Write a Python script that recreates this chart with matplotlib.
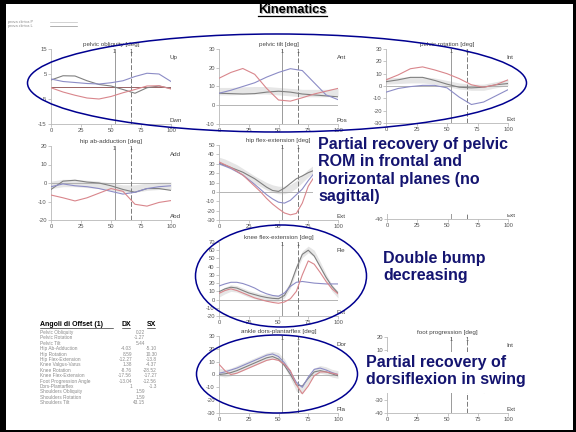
"""
Gait kinematics slide: joint angle curves over the gait cycle with annotations.
"""
import matplotlib
matplotlib.use("Agg")
import matplotlib.pyplot as plt
from matplotlib.patches import Ellipse, Rectangle
import numpy as np

plt.rcParams['font.family'] = ['Liberation Sans', 'DejaVu Sans']

W, H = 576, 432

# --- DATA --- #

pct10 = [0, 10, 20, 30, 40, 50, 60, 70, 80, 90, 100]
pct5 = [0, 5, 10, 15, 20, 25, 30, 35, 40, 45, 50, 55, 60, 65, 70, 75, 80, 85, 90, 95, 100]
events = [53, 66.5]  # toe off / opposite event (% cycle)

# pelvic obliquity
obl_grey = [2.6, 4.3, 4.2, 2.3, 0.8, 0.2, -1.2, -2.7, -0.5, 0.2, -0.8]
obl_blue = [3.0, 2.0, 1.6, 1.2, 1.0, 1.5, 2.3, 4.0, 5.3, 5.0, 2.0]
obl_red = [-0.5, -2.2, -3.5, -4.6, -5.0, -4.0, -2.5, -1.2, 0.2, 0.3, -1.0]

# pelvic tilt
tilt_norm = [7.5, 7.5, 7.8, 8.0, 8.0, 7.5, 7.0, 6.5, 6.5, 6.5, 7.0]
tilt_grey = [6.4, 6.2, 6.0, 6.2, 7.0, 7.5, 7.0, 6.0, 5.5, 5.0, 4.5]
tilt_blue = [6.4, 8.0, 10.0, 12.0, 15.0, 17.5, 19.5, 18.5, 12.0, 5.5, 3.0]
tilt_red = [14.4, 17.5, 19.6, 16.5, 9.0, 2.8, 2.2, 4.0, 6.0, 7.5, 9.0]

# pelvic rotation
rot_norm = [4.0, 4.5, 5.0, 5.0, 4.0, 2.0, 0.0, -1.0, -1.0, 1.0, 3.0]
rot_grey = [3.5, 5.0, 7.0, 7.0, 4.5, 1.5, -1.0, -1.5, -1.0, 1.0, 2.0]
rot_blue = [-5.0, -2.0, -0.5, 0.5, 0.5, -1.5, -9.0, -15.0, -13.0, -8.0, -3.0]
rot_red = [5.0, 9.0, 14.0, 15.5, 13.0, 10.0, 6.0, 1.0, -1.0, 1.0, 5.0]

# hip ab-adduction
abd_norm = [-1.0, 0.0, 0.0, -0.5, -1.0, -2.0, -3.0, -3.0, -2.0, -1.5, -1.5]
abd_grey = [-3.5, 1.0, 1.5, 0.5, 0.0, -1.5, -3.5, -5.0, -3.0, -3.0, -4.0]
abd_blue = [-2.0, -0.5, -1.5, -2.0, -3.0, -4.5, -6.0, -5.0, -3.0, -2.0, -1.5]
abd_red = [-6.5, -8.0, -9.7, -8.0, -5.5, -3.0, -4.5, -11.5, -12.5, -10.5, -9.5]

# hip flex-extension
hip_norm = [33, 31, 28, 25, 21, 17, 13, 9.5, 6, 3.5, 2, 2, 4, 8, 14, 20, 25, 28, 30, 31, 31]
hip_grey = [30.5, 28.5, 26, 23.5, 21, 17.5, 14, 9.5, 5, 1.5, 0.5, 4, 9, 14, 17, 20.5, 23, 25, 26, 26.5, 27]
hip_blue = [30, 27.5, 25, 21.5, 18, 13, 8, 2.5, -3, -7.5, -11, -12, -9, -3, 3, 12, 20, 24, 27, 28.5, 29]
hip_red = [32, 29, 26, 22, 18, 12, 6, 0, -7, -13, -18, -22.5, -24.5, -23, -12, 6, 16, 23, 28, 30.5, 32]

# knee flex-extension
knee_norm = [7, 11, 14, 13, 10, 7, 5, 3, 2, 1.5, 2, 6, 18, 38, 55, 61, 56, 42, 27, 14, 6]
knee_grey = [9.5, 13, 15, 14, 11, 8, 6, 4, 2.5, 1.5, 1, 5, 18, 38, 55, 60, 53, 40, 27, 16, 8]
knee_blue = [16.5, 19, 21, 21, 19.5, 17, 14, 10, 7, 5, 4, 8, 16, 21, 22, 21, 20, 19.5, 19, 19, 19]
knee_red = [7.5, 11, 13, 11, 8, 5, 2, 0, -2, -3.5, -4.5, -3, 1, 10, 30, 47, 43, 33, 22, 13, 7]

# ankle dors-plantarflex
ank_norm = [2, 1, 2, 4, 6, 8, 10, 12, 14, 15, 14, 9, 0, -10, -12, -4, 2, 4, 3, 1, 0]
ank_grey = [0, 0.5, 1.5, 3, 5, 7, 9, 11, 13, 14, 12, 7, 0, -8, -9, -3, 2, 3, 2, 0.5, -1]
ank_blue = [1, 2, 3.5, 5, 7, 9, 11, 13, 15, 16, 14, 9, 2, -6, -10, -2, 4, 5, 3.5, 1.5, 0]
ank_red = [8, 3, 0, 1, 3, 5, 7, 9, 11, 12, 11, 8, 3, -8, -15, -9, -1, 2, 2, 1, 0]

# foot progression (mostly hidden under the note)
foot_norm = [-10, -10, -9, -9, -9, -10, -12, -16, -18, -14, -11]

# offset table
offset_names = ['Pelvic Obliquity', 'Pelvic Rotation', 'Pelvic Tilt', 'Hip Ab-Adduction',
                'Hip Rotation', 'Hip Flex-Extension', 'Knee Valgus-Varus', 'Knee Rotation',
                'Knee Flex-Extension', 'Foot Progression Angle', 'Dors-Plantarflex',
                'Shoulders Obliquity', 'Shoulders Rotation', 'Shoulders Tilt']
offset_mid = ['0.22', '-1.27', '5.44', '', '', '', '', '', '', '', '', '1.59', '1.59', '43.15']
offset_dx = ['', '', '', '-4.03', '8.59', '-12.27', '1.38', '-8.76', '-17.56', '-13.04', '1', '', '', '']
offset_sx = ['', '', '', '-5.10', '10.30', '-13.8', '-4.37', '-28.52', '-17.27', '-12.56', '-1.3', '', '', '']

GREY = '#808080'
BLUE = '#8c8cc6'
RED = '#d9868c'
BAND = '#e6e6e6'
NAVY = '#141470'

fig = plt.figure(figsize=(W / 100, H / 100), dpi=100)
fig.patch.set_facecolor('white')


def draw_panel(box, title, ylim, yticks, tags, x=None, curves=(), band=None, band_sd=2.0,
               zero_color='#a8a8a8', shown=None, markers=True):
    x0, x1, y0, y1 = box
    ax = fig.add_axes([x0 / W, 1 - y1 / H, (x1 - x0) / W, (y1 - y0) / H])
    ax.patch.set_alpha(0)
    ax.set_xlim(0, 100)
    ax.set_ylim(*ylim)
    for s in ('top', 'right'):
        ax.spines[s].set_visible(False)
    for s in ('left', 'bottom'):
        ax.spines[s].set_color('#b8b8b8')
        ax.spines[s].set_linewidth(0.6)
    ax.set_xticks([0, 25, 50, 75, 100])
    ax.set_yticks(yticks)
    # labels under the white note boxes are not drawn
    shown = yticks if shown is None else shown
    ax.set_yticklabels([str(t) if t in shown else '' for t in yticks])
    ax.tick_params(axis='both', length=2, width=0.5, color='#b0b0b0', labelsize=4.2,
                   labelcolor='#555555', pad=1)
    if title:
        ax.set_title(title, fontsize=4.5, pad=2, color='#444444')

    if band is not None:
        band = np.asarray(band)
        ax.fill_between(x, band - band_sd, band + band_sd, color=BAND, lw=0, zorder=1)
    ax.axhline(0, color=zero_color, lw=0.6, zorder=2)
    ax.axvline(events[0], color='#9a9a9a', lw=0.7, zorder=2)
    ax.axvline(events[1], color='#7a7a7a', lw=0.7, dashes=(5, 2), zorder=2)
    if markers:
        for ev in events:
            ax.text(ev, ylim[1], '1', fontsize=4, ha='center', va='top', color='#555555')
    for values, color in curves:
        ax.plot(x, values, color=color, lw=0.8, zorder=3)

    if tags[0]:
        ax.text(0.99, 0.89, tags[0], transform=ax.transAxes, fontsize=4.5, color='#444444',
                ha='left', va='center')
    if tags[1]:
        ax.text(0.99, 0.05, tags[1], transform=ax.transAxes, fontsize=4.5, color='#444444',
                ha='left', va='center')
    return ax


draw_panel((51, 171, 49, 124), 'pelvic obliquity [deg]', (-15, 15), [-15, -5, 5, 15],
           ('Up', 'Dwn'), x=pct10, zero_color='#8a4a4a',
           curves=[(obl_grey, GREY), (obl_blue, BLUE), (obl_red, RED)])
draw_panel((219, 338, 49, 124), 'pelvic tilt [deg]', (-10, 30), [-10, 0, 10, 20, 30],
           ('Ant', 'Pos'), x=pct10, band=tilt_norm,
           curves=[(tilt_grey, GREY), (tilt_blue, BLUE), (tilt_red, RED)])
draw_panel((386, 508, 49, 123), 'pelvic rotation [deg]', (-30, 30), [-30, -20, -10, 0, 10, 20, 30],
           ('Int', 'Ext'), x=pct10, band=rot_norm, band_sd=2.5,
           curves=[(rot_grey, GREY), (rot_blue, BLUE), (rot_red, RED)])
draw_panel((51, 171, 146, 220), 'hip ab-adduction [deg]', (-20, 20), [-20, -10, 0, 10, 20],
           ('Add', 'Abd'), x=pct10, band=abd_norm,
           curves=[(abd_grey, GREY), (abd_blue, BLUE), (abd_red, RED)])
draw_panel((219, 338, 145, 220), 'hip flex-extension [deg]', (-30, 50),
           [-30, -20, -10, 0, 10, 20, 30, 40, 50], (None, 'Ext'), x=pct5, band=hip_norm,
           band_sd=4, curves=[(hip_grey, GREY), (hip_blue, BLUE), (hip_red, RED)])
draw_panel((387, 508, 146, 219), '', (-40, 40), [-40, -20, 0, 20, 40],
           (None, 'Ext'), x=pct10, shown=[-40], markers=False)
draw_panel((219, 338, 242, 316), 'knee flex-extension [deg]', (-20, 70),
           [-20, -10, 0, 10, 20, 30, 40, 50, 60, 70], ('Fle', 'Ext'), x=pct5, band=knee_norm,
           band_sd=4, curves=[(knee_grey, GREY), (knee_blue, BLUE), (knee_red, RED)])
draw_panel((219, 338, 336, 413), 'ankle dors-plantarflex [deg]', (-30, 30),
           [-30, -20, -10, 0, 10, 20, 30], ('Dor', 'Pla'), x=pct5, band=ank_norm, band_sd=3,
           curves=[(ank_grey, GREY), (ank_blue, BLUE), (ank_red, RED)])
draw_panel((387, 508, 337, 413), 'foot progression [deg]', (-40, 20),
           [-40, -30, -20, -10, 0, 10, 20], ('Int', 'Ext'), x=pct10, band=foot_norm, band_sd=6,
           shown=[-40, -30, 10, 20])

# --- OVERLAY (frame, notes, ellipses, table) --- #
ov = fig.add_axes([0, 0, 1, 1])
ov.set_xlim(0, W)
ov.set_ylim(H, 0)
ov.axis('off')
ov.patch.set_alpha(0)
ov.set_zorder(10)

# slide frame
for rect in [(0, 0, 6, H), (0, 0, W, 4), (W - 3, 0, 3, H), (0, H - 2, W, 2)]:
    ov.add_patch(Rectangle(rect[:2], rect[2], rect[3], color='black', lw=0))

# title
ov.text(293, 11, 'Kinematics', fontsize=9.3, fontweight='bold', color='#b0b0b0',
        ha='center', va='center')
ov.text(292, 10, 'Kinematics', fontsize=9.3, fontweight='bold', color='black',
        ha='center', va='center')
ov.plot([258, 327], [16, 16], color='black', lw=0.9)

# legend
for i, (lab, col) in enumerate([('prova clinica P', '#c0c0c0'), ('prova clinica L', '#909090')]):
    yy = 21.5 + 4 * i
    ov.text(8, yy, lab, fontsize=2.8, color='#888888', va='center')
    ov.plot([50, 77], [yy, yy], color=col, lw=0.5)

# note boxes hiding parts of the plots
ov.add_patch(Rectangle((313, 135), 222, 79, color='white', lw=0))
ov.add_patch(Rectangle((361, 352), 169, 41, color='white', lw=0))

note_kw = dict(fontsize=11.5, fontweight='bold', color=NAVY, ha='left', va='top',
               linespacing=1.2)
ov.text(318, 137, 'Partial recovery of pelvic\nROM in frontal and\nhorizontal planes (no\nsagittal)',
        **note_kw)
ov.text(383, 251, 'Double bump\ndecreasing', **note_kw)
ov.text(366, 355, 'Partial recovery of\ndorsiflexion in swing', **note_kw)

# ellipses
for (cx, cy, ew, eh) in [(277, 83, 499, 98), (281, 276, 171, 102), (277, 374, 161, 78)]:
    ov.add_patch(Ellipse((cx, cy), ew, eh, fill=False, edgecolor='#000090', lw=1.1))

# offset table
ov.text(40, 324, 'Angoli di Offset (1)', fontsize=5, fontweight='bold', va='center')
ov.text(126, 324, 'DX', fontsize=5, fontweight='bold', va='center', ha='center')
ov.text(151, 324, 'SX', fontsize=5, fontweight='bold', va='center', ha='center')
ov.plot([40, 113], [327.5, 327.5], color='black', lw=0.4)
ov.plot([122, 130], [327.5, 327.5], color='black', lw=0.4)
ov.plot([147, 155], [327.5, 327.5], color='black', lw=0.4)
tkw = dict(fontsize=3.4, color='#8a8a8a', va='center')
for i, name in enumerate(offset_names):
    yy = 332.5 + 5.4 * i
    ov.text(40, yy, name, **tkw)
    ov.text(132, yy, offset_dx[i], ha='right', **tkw)
    ov.text(145, yy, offset_mid[i], ha='right', **tkw)
    ov.text(157, yy, offset_sx[i], ha='right', **tkw)

fig.savefig('out.png', dpi=100, facecolor='white')
